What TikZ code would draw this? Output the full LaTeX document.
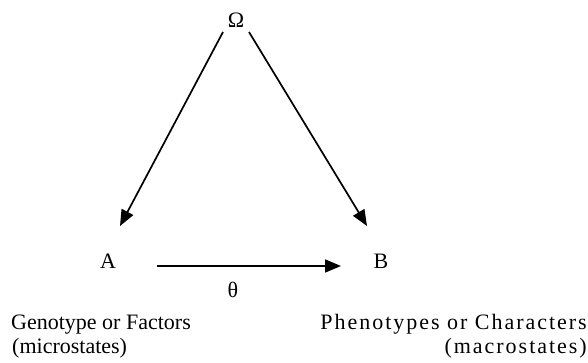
\documentclass[tikz,border=0pt]{standalone}
\usepackage{fontspec}
\setmainfont{Liberation Serif}
\newfontfamily\spaced[LetterSpace=9]{Liberation Serif}
\usetikzlibrary{arrows.meta}
\begin{document}
\begin{tikzpicture}[x=1pt,y=-1pt,
  font=\fontsize{22}{26}\selectfont,
  lbl/.style={inner sep=0pt},
  conn/.style={line width=1.7pt,-{Triangle[length=16pt,width=13pt]}}]
\useasboundingbox (0,0) rectangle (588,363);
\fill[white] (0,0) rectangle (588,363);
% nodes
\node[lbl] (O) at (236,20) {Ω};
\node[lbl] (A) at (108,261) {A};
\node[lbl] (B) at (381,261) {B};
\node[lbl] (th) at (233,290) {θ};
% connector ends
\coordinate (oL) at (223,32);
\coordinate (aT) at (120,226);
\coordinate (oR) at (249,32);
\coordinate (bT) at (367,226);
\coordinate (aR) at (157,266);
\coordinate (bL) at (341,266);
\draw[conn] (oL) -- (aT);
\draw[conn] (oR) -- (bT);
\draw[conn] (aR) -- (bL);
% labels
\node[lbl,anchor=base west] (g1) at (11,329) {Genotype or Factors};
\node[lbl,anchor=base west] (g2) at (12,353) {(microstates)};
\node[lbl,anchor=base east] (p1) at (587,329) {\spaced Phenotypes or Characters};
\node[lbl,anchor=base east] (p2) at (587,353) {\spaced (macrostates)};
\end{tikzpicture}
\end{document}
